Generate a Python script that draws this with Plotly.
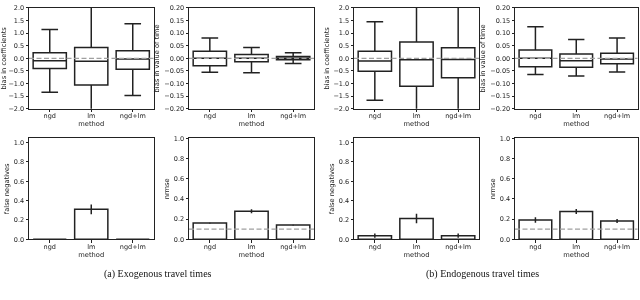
import plotly.graph_objects as go

# ---------------- data ----------------
methods = ["ngd", "lm", "ngd+lm"]

# (a) exogenous: bias in coefficients (box stats)
exo_coef_lo = [-1.34, -3.2, -1.47]
exo_coef_q1 = [-0.40, -1.06, -0.43]
exo_coef_med = [-0.09, -0.11, -0.03]
exo_coef_q3 = [0.22, 0.43, 0.30]
exo_coef_hi = [1.14, 3.4, 1.37]

# (a) exogenous: bias in value of time
exo_vot_lo = [-0.055, -0.057, -0.020]
exo_vot_q1 = [-0.029, -0.013, -0.006]
exo_vot_med = [0.000, 0.000, 0.000]
exo_vot_q3 = [0.028, 0.015, 0.007]
exo_vot_hi = [0.081, 0.043, 0.022]

# (b) endogenous: bias in coefficients
endo_coef_lo = [-1.66, -3.6, -2.8]
endo_coef_q1 = [-0.51, -1.11, -0.77]
endo_coef_med = [-0.10, -0.06, -0.05]
endo_coef_q3 = [0.28, 0.65, 0.42]
endo_coef_hi = [1.45, 3.8, 3.0]

# (b) endogenous: bias in value of time
endo_vot_lo = [-0.064, -0.070, -0.054]
endo_vot_q1 = [-0.033, -0.035, -0.021]
endo_vot_med = [0.000, -0.009, -0.003]
endo_vot_q3 = [0.033, 0.017, 0.020]
endo_vot_hi = [0.125, 0.075, 0.081]

# bar panels
exo_fn = [0.0, 0.31, 0.0]
exo_fn_err = [0.0, 0.05, 0.0]
exo_nrmse = [0.160, 0.278, 0.140]
exo_nrmse_err = [0.004, 0.020, 0.004]
endo_fn = [0.037, 0.215, 0.037]
endo_fn_err = [0.022, 0.050, 0.022]
endo_nrmse = [0.190, 0.275, 0.180]
endo_nrmse_err = [0.027, 0.025, 0.020]

bias_ref = 0.0
nrmse_ref = 0.1

captions = ["(a) Exogenous travel times", "(b) Endogenous travel times"]

# ---------------- styling / layout ----------------
W, H = 640, 300
TICKFONT = dict(family="DejaVu Sans", size=6.5, color="#222")
TITLEFONT = dict(family="DejaVu Sans", size=6.7, color="#222")
LINEC = "#222"

xdoms = [(29, 153.5), (189, 314), (354, 479), (515, 637.5)]
ydoms_top = (4, 107.7)
ydoms_bot = (138, 241.7)


def xd(p):
    return [p[0] / W, p[1] / W]


def yd(p):
    return [1 - p[1] / H, 1 - p[0] / H]


fig = go.Figure()
layout = dict(
    width=W, height=H,
    margin=dict(l=0, r=0, t=0, b=0),
    paper_bgcolor="white", plot_bgcolor="white",
    showlegend=False,
    font=TICKFONT,
    shapes=[], annotations=[],
)

box_sets = [
    (exo_coef_lo, exo_coef_q1, exo_coef_med, exo_coef_q3, exo_coef_hi,
     "bias in coefficients", [-2, 2], 0.5, ".1f"),
    (exo_vot_lo, exo_vot_q1, exo_vot_med, exo_vot_q3, exo_vot_hi,
     "bias in value of time", [-0.2, 0.2], 0.05, ".2f"),
    (endo_coef_lo, endo_coef_q1, endo_coef_med, endo_coef_q3, endo_coef_hi,
     "bias in coefficients", [-2, 2], 0.5, ".1f"),
    (endo_vot_lo, endo_vot_q1, endo_vot_med, endo_vot_q3, endo_vot_hi,
     "bias in value of time", [-0.2, 0.2], 0.05, ".2f"),
]

bar_sets = [
    (exo_fn, exo_fn_err, "false negatives", [0, 1.045], None),
    (exo_nrmse, exo_nrmse_err, "nrmse", [0, 1.0], nrmse_ref),
    (endo_fn, endo_fn_err, "false negatives", [0, 1.045], None),
    (endo_nrmse, endo_nrmse_err, "nrmse", [0, 1.0], nrmse_ref),
]


def axes(n, xdom, ydom, ytitle, yrange, dtick, fmt):
    sx = "" if n == 1 else str(n)
    common = dict(showline=True, mirror=True, linecolor=LINEC, linewidth=1,
                  ticks="outside", ticklen=2.5, tickwidth=1, tickcolor=LINEC,
                  showgrid=False, zeroline=False, tickfont=TICKFONT)
    layout["xaxis" + sx] = dict(
        domain=xd(xdom), anchor="y" + sx, type="category",
        range=[-0.5, 2.5],
        title=dict(text="method", font=TITLEFONT, standoff=1),
        ticklabelstandoff=-2, **common)
    layout["yaxis" + sx] = dict(
        domain=yd(ydom), anchor="x" + sx, range=yrange,
        tick0=0, dtick=dtick, tickformat=fmt,
        title=dict(text=ytitle, font=TITLEFONT, standoff=3),
        **common)
    return "x" + sx, "y" + sx


for i, (lo, q1, med, q3, hi, yt, yr, dt, fmt) in enumerate(box_sets):
    n = i + 1
    xa, ya = axes(n, xdoms[i], ydoms_top, yt, yr, dt, fmt)
    fig.add_trace(go.Box(
        x=methods, lowerfence=lo, q1=q1, median=med, q3=q3, upperfence=hi,
        width=0.8, whiskerwidth=0.5, fillcolor="white",
        line=dict(color=LINEC, width=1.5), xaxis=xa, yaxis=ya,
        hoverinfo="skip"))
    layout["shapes"].append(dict(
        type="line", xref=xa + " domain", x0=0, x1=1, yref=ya,
        y0=bias_ref, y1=bias_ref, layer="above",
        line=dict(color="#a0a0a0", width=1.3, dash="5px,2.5px")))

for i, (vals, err, yt, yr, ref) in enumerate(bar_sets):
    n = i + 5
    xa, ya = axes(n, xdoms[i], ydoms_bot, yt, yr, 0.2, ".1f")
    fig.add_trace(go.Bar(
        x=methods, y=vals, width=0.8,
        marker=dict(color="white", line=dict(color=LINEC, width=1.5)),
        error_y=dict(type="data", array=err, width=0, thickness=1.5,
                     color=LINEC),
        xaxis=xa, yaxis=ya, hoverinfo="skip"))
    if ref is not None:
        layout["shapes"].append(dict(
            type="line", xref=xa + " domain", x0=0, x1=1, yref=ya,
            y0=ref, y1=ref, layer="above",
            line=dict(color="#a0a0a0", width=1.3, dash="5px,2.5px")))

cap_x = [157.5 / W, 482 / W]
for cx, txt in zip(cap_x, captions):
    layout["annotations"].append(dict(
        text=txt, x=cx, y=1 - 277.7 / H, xref="paper", yref="paper",
        showarrow=False, xanchor="center", yanchor="middle",
        font=dict(family="Liberation Serif", size=10, color="#111")))

fig.update_layout(**layout)
fig.write_html(
    "out.html",
    config={"displayModeBar": False},
    post_script=(
        "document.body.style.margin='0';"
        "document.body.style.overflow='hidden';"
        "var s=document.createElement('style');"
        "s.textContent='.main-svg{will-change:transform;}';"
        "document.head.appendChild(s);"
    ),
)
